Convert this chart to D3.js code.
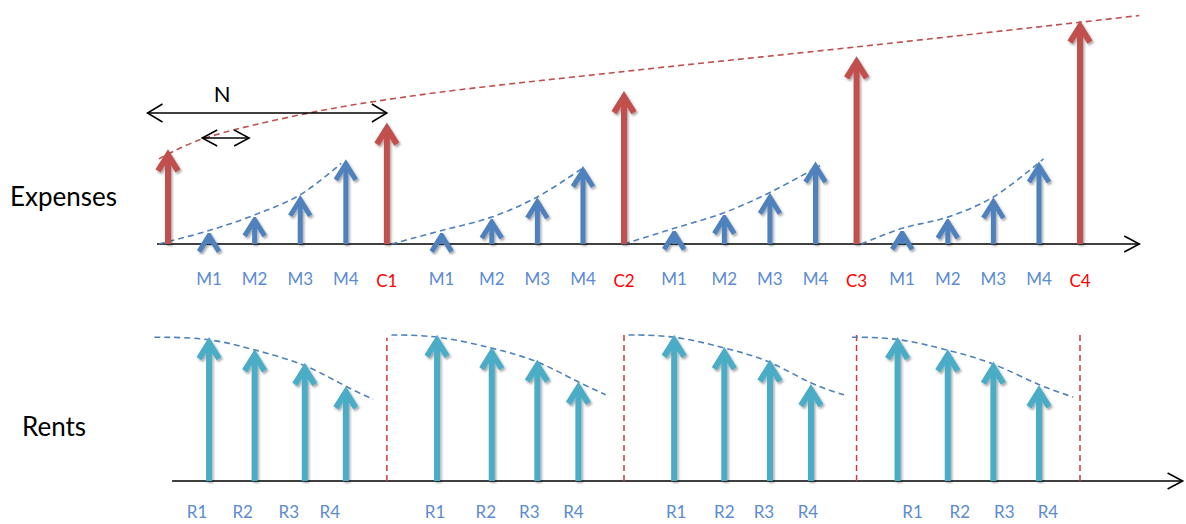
<!DOCTYPE html>
<html>
<head>
<meta charset="utf-8">
<script src="https://cdn.jsdelivr.net/npm/d3@7"></script>
<style>
  body { margin: 0; background: #fff; }
  svg { display: block; font-family: Lato, "Open Sans", sans-serif; }
</style>
</head>
<body>
<div id="chart"></div>
<script>
// time in years, C0 at 0 and C4 at 20
var capTimes = [0, 4.8, 10, 15.1, 20];
var capValues = [42, 54, 68, 83.5, 99.5];
var capLabels = ["", "C1", "C2", "C3", "C4"];

var maintLabels = ["M1", "M2", "M3", "M4"];
var maintTimes = [[0.9, 1.9, 2.9, 3.9], [6.0, 7.1, 8.1, 9.1], [11.1, 12.2, 13.2, 14.2], [16.1, 17.1, 18.1, 19.1]];
var maintValues = [[6, 13, 22, 38], [6, 12, 21, 35], [7, 14, 23, 37], [7, 12, 21, 37]];

var rentLabels = ["R1", "R2", "R3", "R4"];
var rentTimes = [[0.9, 1.9, 3.0, 3.9], [5.9, 7.1, 8.1, 9.0], [11.1, 12.2, 13.2, 14.1], [16.0, 17.1, 18.1, 19.1]];
var rentValues = [[64, 58.5, 52.5, 42], [65, 59.5, 54, 44], [65, 59.5, 54, 43], [64, 58.5, 53, 42.5]];
var rentLabelShift = [[-12, -12, -16, -16], [-2, -6, -8, -5], [2, 0, -6, -3], [15, 12, 11, 9]];

// dashed trend lines
var capTrend = [[-0.2, 38], [0.7, 46.5], [3.1, 58.5], [5.5, 66.5], [10, 77], [15.1, 88], [20, 99], [21.3, 102]];
var maintTrendStart = [-0.2, 4.9, 10.0, 15.2];
var maintTrendEnd = [[3.8, 36], [9.1, 34], [14.3, 35], [19.2, 38]];
var rentTrendStart = [[-0.3, 64.2], [4.9, 65.2], [10.1, 65.2], [15.0, 64.2]];
var rentTrendEnd = [[4.5, 36.5], [9.6, 38.5], [14.9, 38], [19.85, 37.5]];
var dividerTimes = [4.8, 10, 15.1, 20];
var dividerValues = [64, 66, 66, 66];

var spanN = [-0.45, 4.8];
var spanSmall = [0.75, 1.78];
var axisTop = [-0.24, 21.3];
var axisBottom = [0.09, 22.25];

var w = 1186, h = 524;
var red = "#C0504D", blue = "#4F81BD", cyan = "#4BACC6", labelBlue = "#5B8BD3";

var svg = d3.select("#chart").append("svg").attr("width", w).attr("height", h);

var defs = svg.append("defs");
defs.append("filter").attr("id", "shadow").attr("x", "-50%").attr("y", "-10%").attr("width", "200%").attr("height", "130%")
    .append("feDropShadow").attr("dx", 1.5).attr("dy", 2).attr("stdDeviation", 1)
    .attr("flood-color", "#000").attr("flood-opacity", 0.35);

var x = d3.scaleLinear().domain([0, 20]).range([168, 1080]);
var yTop = d3.scaleLinear().domain([0, 100]).range([244, 20]);
var yBot = d3.scaleLinear().domain([0, 100]).range([481, 257]);

function arrow(g, px, yBase, yTip, color, sw) {
    var a = g.append("g").attr("filter", "url(#shadow)");
    a.append("line")
        .attr("x1", px).attr("x2", px)
        .attr("y1", yBase).attr("y2", Math.min(yBase, yTip + 6))
        .attr("stroke", color).attr("stroke-width", sw);
    a.append("path")
        .attr("d", "M" + (px - 10) + "," + (yTip + 21) + "L" + px + "," + (yTip + 5) + "L" + (px + 10) + "," + (yTip + 21))
        .attr("fill", "none").attr("stroke", color).attr("stroke-width", sw)
        .attr("stroke-linejoin", "miter");
}

function axisLine(yPos, t0, t1) {
    var x0 = x(t0), x1 = x(t1);
    svg.append("line").attr("x1", x0).attr("x2", x1).attr("y1", yPos).attr("y2", yPos)
        .attr("stroke", "#000").attr("stroke-width", 1.6);
    svg.append("path").attr("d", "M" + (x1 - 15) + "," + (yPos - 8) + "L" + x1 + "," + yPos + "L" + (x1 - 15) + "," + (yPos + 8))
        .attr("fill", "none").attr("stroke", "#000").attr("stroke-width", 1.6);
}

function doubleArrow(yPos, span, hh) {
    var x0 = x(span[0]), x1 = x(span[1]);
    svg.append("line").attr("x1", x0).attr("x2", x1).attr("y1", yPos).attr("y2", yPos)
        .attr("stroke", "#000").attr("stroke-width", 1.5);
    svg.append("path").attr("d", "M" + (x0 + 15) + "," + (yPos - hh) + "L" + x0 + "," + yPos + "L" + (x0 + 15) + "," + (yPos + hh))
        .attr("fill", "none").attr("stroke", "#000").attr("stroke-width", 1.5);
    svg.append("path").attr("d", "M" + (x1 - 15) + "," + (yPos - hh) + "L" + x1 + "," + yPos + "L" + (x1 - 15) + "," + (yPos + hh))
        .attr("fill", "none").attr("stroke", "#000").attr("stroke-width", 1.5);
}

var lineTop = d3.line().x(function(d){ return x(d[0]); }).y(function(d){ return yTop(d[1]); }).curve(d3.curveCatmullRom.alpha(0.5));
var lineBot = d3.line().x(function(d){ return x(d[0]); }).y(function(d){ return yBot(d[1]); }).curve(d3.curveBasis);

// ---------- Expenses ----------
axisLine(yTop(0), axisTop[0], axisTop[1]);

svg.append("path").attr("d", lineTop(capTrend))
    .attr("fill", "none").attr("stroke", red).attr("stroke-width", 1.6).attr("stroke-dasharray", "6,4");

maintTimes.forEach(function(times, gi) {
    var pts = [[maintTrendStart[gi], 0]];
    times.slice(0, 3).forEach(function(t, i) { pts.push([t, maintValues[gi][i]]); });
    pts.push(maintTrendEnd[gi]);
    svg.append("path").attr("d", lineTop(pts))
        .attr("fill", "none").attr("stroke", blue).attr("stroke-width", 1.6).attr("stroke-dasharray", "6,4");
});

doubleArrow(113, spanN, 9);
doubleArrow(138, spanSmall, 8);
svg.append("text").attr("x", (x(spanN[0]) + x(spanN[1])) / 2 - 45).attr("y", 102)
    .attr("text-anchor", "middle").attr("font-size", 22).attr("fill", "#000").text("N");

var arrows = svg.append("g");
maintTimes.forEach(function(times, gi) {
    times.forEach(function(t, i) {
        arrow(arrows, x(t), yTop(0), yTop(maintValues[gi][i]), blue, 5);
        svg.append("text").attr("x", x(t)).attr("y", yTop(0) + 34)
            .attr("text-anchor", "middle").attr("dominant-baseline", "central")
            .attr("font-size", 17).attr("fill", labelBlue).text(maintLabels[i]);
    });
});
capTimes.forEach(function(t, i) {
    arrow(arrows, x(t), yTop(0), yTop(capValues[i]), red, 6);
    svg.append("text").attr("x", x(t)).attr("y", yTop(0) + 36)
        .attr("text-anchor", "middle").attr("dominant-baseline", "central")
        .attr("font-size", 17).attr("fill", "#FF0000").text(capLabels[i]);
});

svg.append("text").attr("x", 10).attr("y", 206).attr("font-size", 26).attr("fill", "#000").text("Expenses");

// ---------- Rents ----------
axisLine(yBot(0), axisBottom[0], axisBottom[1]);

dividerTimes.forEach(function(t, i) {
    svg.append("line").attr("x1", x(t)).attr("x2", x(t)).attr("y1", yBot(0)).attr("y2", yBot(dividerValues[i]))
        .attr("stroke", "#D03A3A").attr("stroke-width", 1.5).attr("stroke-dasharray", "6,4");
});

rentTimes.forEach(function(times, gi) {
    var pts = [rentTrendStart[gi]];
    times.forEach(function(t, i) { pts.push([t, rentValues[gi][i]]); });
    pts.push(rentTrendEnd[gi]);
    svg.append("path").attr("d", lineBot(pts))
        .attr("fill", "none").attr("stroke", blue).attr("stroke-width", 1.6).attr("stroke-dasharray", "6,4");
});

var rentArrows = svg.append("g");
rentTimes.forEach(function(times, gi) {
    times.forEach(function(t, i) {
        arrow(rentArrows, x(t), yBot(0), yBot(rentValues[gi][i]), cyan, 6);
        svg.append("text").attr("x", x(t) + rentLabelShift[gi][i]).attr("y", yBot(0) + 30)
            .attr("text-anchor", "middle").attr("dominant-baseline", "central")
            .attr("font-size", 17).attr("fill", labelBlue).text(rentLabels[i]);
    });
});

svg.append("text").attr("x", 22).attr("y", 436).attr("font-size", 26).attr("fill", "#000").text("Rents");
</script>
</body>
</html>
